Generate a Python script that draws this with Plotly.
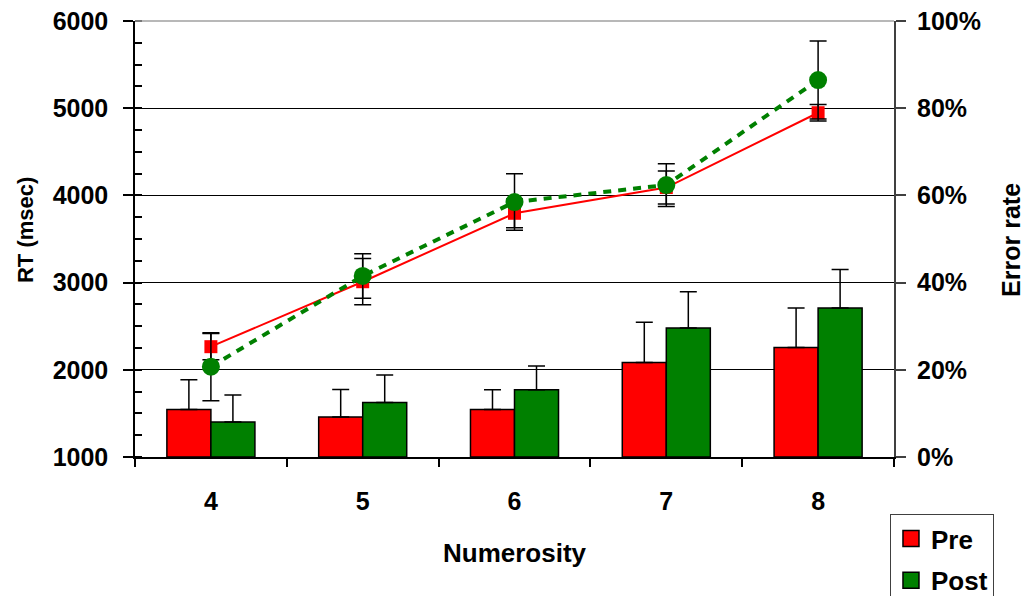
import plotly.graph_objects as go

categories = ['4', '5', '6', '7', '8']

# Reaction times (msec), left axis
rt_pre = [2265, 3010, 3795, 4090, 4948]
rt_pre_err = [150, 265, 165, 190, 95]
rt_post = [2036, 3076, 3924, 4119, 5323]
rt_post_err = [390, 255, 325, 245, 448]

# Error rates (%), right axis
er_pre = [10.9, 9.2, 10.9, 21.7, 25.1]
er_pre_err = [6.8, 6.3, 4.5, 9.2, 9.1]
er_post = [8.0, 12.5, 15.4, 29.6, 34.2]
er_post_err = [6.2, 6.3, 5.5, 8.3, 8.8]

RED = '#ff0000'
GREEN = '#008000'
FONT = 'Liberation Sans'

fig = go.Figure()

bar_err = dict(type='data', symmetric=False, color='black', thickness=1.5, width=8.5)

fig.add_trace(go.Bar(
    x=categories, y=er_pre, name='Pre', yaxis='y', showlegend=False,
    marker=dict(color=RED, line=dict(color='black', width=1.5)),
    error_y=dict(array=er_pre_err, arrayminus=[0] * 5, **bar_err)))
fig.add_trace(go.Bar(
    x=categories, y=er_post, name='Post', yaxis='y', showlegend=False,
    marker=dict(color=GREEN, line=dict(color='black', width=1.5)),
    error_y=dict(array=er_post_err, arrayminus=[0] * 5, **bar_err)))

fig.add_trace(go.Scatter(
    x=categories, y=rt_pre, yaxis='y2', mode='lines+markers', showlegend=False,
    line=dict(color=RED, width=2),
    marker=dict(symbol='square', size=13, color=RED),
    error_y=dict(type='data', array=rt_pre_err, color='black', thickness=1.5, width=8.5)))
fig.add_trace(go.Scatter(
    x=categories, y=rt_post, yaxis='y2', mode='lines+markers', showlegend=False,
    line=dict(color=GREEN, width=4, dash='8px,7px'),
    marker=dict(symbol='circle', size=18, color=GREEN),
    error_y=dict(type='data', array=rt_post_err, color='black', thickness=1.5, width=8.5)))

# legend entries
for nm, col in [('Pre', RED), ('Post', GREEN)]:
    fig.add_trace(go.Scatter(
        x=[None], y=[None], yaxis='y', mode='markers', name=nm, legendgroup=nm,
        marker=dict(symbol='square', size=16, color=col, line=dict(color='black', width=1.5))))

TS = 25
tickfont = dict(family=FONT, size=TS, color='black', weight='bold')

fig.update_layout(
    width=1024, height=596,
    margin=dict(l=135, r=130, t=21, b=139, autoexpand=False),
    paper_bgcolor='white', plot_bgcolor='white',
    barmode='group', bargap=0.42, bargroupgap=0,
    font=dict(family=FONT, size=TS, color='black'),
    xaxis=dict(
        type='category', range=[-0.5, 4.5], automargin=False,
        tickson='boundaries', ticks='outside', ticklen=8, tickwidth=1.5, tickcolor='black',
        showline=True, linecolor='black', linewidth=1.5,
        tickfont=tickfont, ticklabelstandoff=21,
        title=dict(text='Numerosity', font=dict(family=FONT, size=26, color='black', weight='bold'),
                   standoff=30),
        showgrid=False, zeroline=False),
    yaxis=dict(
        side='right', range=[0, 100], dtick=20, ticksuffix='%', automargin=False,
        ticks='outside', ticklen=10, tickwidth=1.5, tickcolor='#404040',
        showline=True, linecolor='#404040', linewidth=2,
        showgrid=True, gridcolor='black', gridwidth=1, ticklabeloverflow='allow',
        zeroline=False, tickfont=tickfont, ticklabelstandoff=6),
    yaxis2=dict(
        side='left', overlaying='y', range=[1000, 6000], dtick=1000, automargin=False,
        ticks='outside', ticklen=10, tickwidth=1.5, tickcolor='black',
        minor=dict(dtick=250, ticks='inside', ticklen=7, tickwidth=1.5, tickcolor='black', showgrid=False),
        showline=True, linecolor='black', linewidth=1.5, ticklabeloverflow='allow',
        showgrid=False, zeroline=False, tickfont=tickfont, ticklabelstandoff=10),
    legend=dict(
        x=0.9947, y=-0.1307, xanchor='left', yanchor='top',
        bordercolor='#404040', borderwidth=1, bgcolor='white',
        font=dict(family=FONT, size=26, color='black', weight='bold'),
        tracegroupgap=5, itemwidth=30),
    annotations=[
        dict(text='RT (msec)', xref='paper', yref='paper', x=-0.1449, y=0.5206,
             textangle=-90, showarrow=False, xanchor='center', yanchor='middle',
             font=dict(family=FONT, size=22, color='black', weight='bold')),
        dict(text='Error rate', xref='paper', yref='paper', x=1.154, y=0.4977,
             textangle=-90, showarrow=False, xanchor='center', yanchor='middle',
             font=dict(family=FONT, size=25, color='black', weight='bold')),
    ],
    shapes=[dict(type='line', xref='paper', yref='paper', x0=0, x1=1, y0=1, y1=1,
                 line=dict(color='#a0a0a0', width=1.5), layer='above')],
)

fig.write_html('out.html', config={'displayModeBar': False},
               post_script="document.body.style.margin='0';document.body.style.overflow='hidden';")
